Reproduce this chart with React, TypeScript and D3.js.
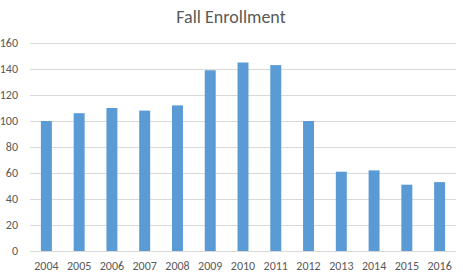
import React from "react";
import * as d3 from "d3";

const years = ["2004","2005","2006","2007","2008","2009","2010","2011","2012","2013","2014","2015","2016"];
const enrollment = [100, 106, 110, 108, 112, 139, 145, 143, 100, 61, 62, 51, 53];
const yTicks = [0, 20, 40, 60, 80, 100, 120, 140, 160];
const title = "Fall Enrollment";

const W = 463, H = 277;
const left = 30, right = 456, top = 43, bottom = 251;
const font = "Calibri, Carlito, 'Open Sans', 'Liberation Sans', sans-serif";

export default function App() {
  const x = d3.scaleBand<string>().domain(years).range([left, right]).paddingInner(0.665).paddingOuter(0.3325);
  const y = d3.scaleLinear().domain([0, 160]).range([bottom, top]);
  return (
    <svg width={W} height={H} style={{ position: "absolute", left: 0, top: 0, background: "#fff" }} fontFamily={font}>
      <rect width={W} height={H} fill="#fff" />
      <text x={231} y={23} textAnchor="middle" fontSize={18} fill="#595959">{title}</text>
      {yTicks.map(t => (
        <g key={t}>
          <line x1={left} x2={right} y1={Math.round(y(t)) + 0.5} y2={Math.round(y(t)) + 0.5} stroke="#d9d9d9" strokeWidth={1} />
          <text x={18} y={y(t)} dy="0.35em" textAnchor="end" fontSize={12} fill="#595959">{t}</text>
        </g>
      ))}
      {years.map((yr, i) => (
        <rect key={yr} x={x(yr)} width={x.bandwidth()} y={y(enrollment[i])} height={y(0) - y(enrollment[i])} fill="#5b9bd5" />
      ))}
      {years.map(yr => (
        <text key={yr} x={(x(yr) as number) + x.bandwidth() / 2} y={266} dy="0.35em" textAnchor="middle" fontSize={12} fill="#595959">{yr}</text>
      ))}
    </svg>
  );
}
